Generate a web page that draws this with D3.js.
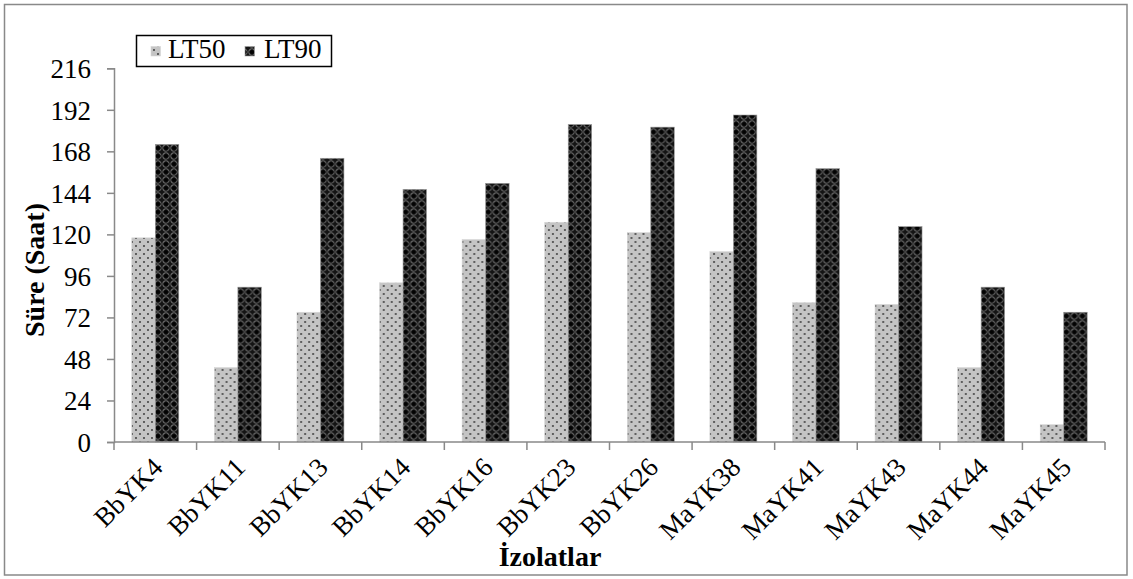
<!DOCTYPE html>
<html>
<head>
<meta charset="utf-8">
<script src="https://cdn.jsdelivr.net/npm/d3@7"></script>
<style>
  html, body { margin: 0; padding: 0; background: #fff; }
  svg { display: block; }
  text { font-family: "Liberation Serif", "Times New Roman", serif; fill: #000; }
</style>
</head>
<body>
<svg id="chart" width="1133" height="579"></svg>
<script>
// Isolates on the x axis
const categories = ["BbYK4", "BbYK11", "BbYK13", "BbYK14", "BbYK16", "BbYK23",
                    "BbYK26", "MaYK38", "MaYK41", "MaYK43", "MaYK44", "MaYK45"];
// Lethal times (hours)
const lt50 = [118, 43, 75, 92, 117, 127, 121, 110, 80.5, 79.5, 43, 10];
const lt90 = [172, 89.5, 164, 146, 149.5, 183.5, 182, 189, 158, 124.5, 89.5, 75];
const seriesNames = ["LT50", "LT90"];
const yTicks = [0, 24, 48, 72, 96, 120, 144, 168, 192, 216];

const svg = d3.select("#chart");
const plot = { left: 114, right: 1105, top: 68.3, bottom: 442 };
const axisColor = "#898989";
const fontSize = "27px";

// Fill patterns for the two series
const defs = svg.append("defs");
const pLight = defs.append("pattern").attr("id", "patLT50")
  .attr("patternUnits", "userSpaceOnUse").attr("width", 8).attr("height", 8);
pLight.append("rect").attr("width", 8).attr("height", 8).attr("fill", "#c4c4c4");
[[2, 2], [6, 6]].forEach(([cx, cy]) =>
  pLight.append("circle").attr("cx", cx).attr("cy", cy).attr("r", 1.05).attr("fill", "#444"));

const pDark = defs.append("pattern").attr("id", "patLT90")
  .attr("patternUnits", "userSpaceOnUse").attr("width", 8).attr("height", 8);
pDark.append("rect").attr("width", 8).attr("height", 8).attr("fill", "#141414");
pDark.append("circle").attr("cx", 4).attr("cy", 4).attr("r", 3.1)
  .attr("fill", "none").attr("stroke", "#666").attr("stroke-width", 1.1);
pDark.append("path").attr("d", "M4 1.5 L4 6.5 M1.5 4 L6.5 4")
  .attr("stroke", "#000").attr("stroke-width", 1.3);

const fills = { LT50: "url(#patLT50)", LT90: "url(#patLT90)" };
const edges = { LT50: "#d6d6d6", LT90: "#9a9a9a" };
const values = { LT50: lt50, LT90: lt90 };

// Outer chart frame
svg.append("rect").attr("x", 4.5).attr("y", 4.5).attr("width", 1122.5).attr("height", 570.5)
  .attr("fill", "#fff").attr("stroke", axisColor).attr("stroke-width", 1.5);

// Scales
const x0 = d3.scaleBand().domain(categories).range([plot.left, plot.right]).padding(0);
const bw = x0.bandwidth();
const x1 = d3.scaleBand().domain(seriesNames).range([bw * 0.2155, bw * 0.7845]).padding(0);
const y = d3.scaleLinear().domain([0, 216]).range([plot.bottom, plot.top]);

// Bars
const groups = svg.append("g").selectAll("g")
  .data(categories).join("g")
  .attr("transform", d => `translate(${x0(d)},0)`);

groups.selectAll("rect")
  .data((d, i) => seriesNames.map(s => ({ s, v: values[s][i] })))
  .join("rect")
  .attr("x", d => x1(d.s))
  .attr("y", d => y(d.v))
  .attr("width", x1.bandwidth())
  .attr("height", d => plot.bottom - y(d.v))
  .attr("fill", d => fills[d.s])
  .attr("stroke", d => edges[d.s])
  .attr("stroke-width", 0.6);

// Y axis
const yAxis = svg.append("g").attr("transform", `translate(${plot.left},0)`)
  .call(d3.axisLeft(y).tickValues(yTicks).tickSize(7).tickPadding(16).tickFormat(d3.format("d")));
yAxis.attr("font-family", null).attr("font-size", null);
yAxis.select(".domain").attr("stroke", axisColor).attr("stroke-width", 1.5);
yAxis.selectAll(".tick line").attr("stroke", axisColor).attr("stroke-width", 1.5);
yAxis.selectAll(".tick text").style("font-family", "'Liberation Serif', serif")
  .style("font-size", fontSize).attr("fill", "#000").attr("dy", "0.34em");

// X axis line and ticks at category boundaries
const xAxisG = svg.append("g");
xAxisG.append("line").attr("x1", plot.left).attr("x2", plot.right)
  .attr("y1", plot.bottom).attr("y2", plot.bottom)
  .attr("stroke", axisColor).attr("stroke-width", 1.5);
const boundaries = categories.map(c => x0(c)).concat([plot.right]);
xAxisG.selectAll("line.tk").data(boundaries).join("line").attr("class", "tk")
  .attr("x1", d => d).attr("x2", d => d)
  .attr("y1", plot.bottom).attr("y2", plot.bottom + 8)
  .attr("stroke", axisColor).attr("stroke-width", 1.5);

// Rotated category labels
xAxisG.selectAll("text.cat").data(categories).join("text").attr("class", "cat")
  .attr("transform", d => `translate(${x0(d) + bw / 2 + 9},${plot.bottom + 27}) rotate(-45)`)
  .attr("text-anchor", "end")
  .style("font-size", fontSize)
  .text(d => d);

// Axis titles
svg.append("text")
  .attr("transform", `translate(44,270) rotate(-90)`)
  .attr("text-anchor", "middle")
  .style("font-size", "28px").style("font-weight", "bold")
  .text("Süre (Saat)");

svg.append("text")
  .attr("x", 550).attr("y", 566)
  .attr("text-anchor", "middle")
  .style("font-size", "28px").style("font-weight", "bold")
  .text("İzolatlar");

// Legend
const legend = svg.append("g");
legend.append("rect").attr("x", 136.5).attr("y", 35.5).attr("width", 195).attr("height", 31)
  .attr("fill", "#fff").attr("stroke", "#000").attr("stroke-width", 1.5);
const legendItems = [
  { s: "LT50", sx: 151, tx: 168 },
  { s: "LT90", sx: 245, tx: 264 }
];
legendItems.forEach(it => {
  legend.append("rect").attr("x", it.sx).attr("y", 46.5).attr("width", 9.5).attr("height", 9.5)
    .attr("fill", fills[it.s]).attr("stroke", edges[it.s]).attr("stroke-width", 0.6);
  legend.append("text").attr("x", it.tx).attr("y", 58)
    .style("font-size", fontSize).text(it.s);
});
</script>
</body>
</html>
